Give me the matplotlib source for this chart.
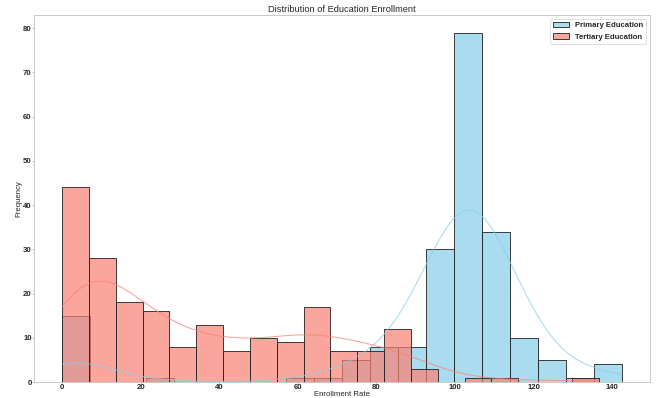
import numpy as np
import pandas as pd
import matplotlib
matplotlib.use("Agg")
import matplotlib.pyplot as plt
from matplotlib.ticker import MultipleLocator
import seaborn as sns

# bin counts (20 bins each)
primary_range = (0, 142.5)
primary_counts = [15, 0, 0, 1, 0, 0, 0, 0, 1, 1,
                  5, 8, 8, 30, 79, 34, 10, 5, 1, 4]

tertiary_range = (0, 136.6)
tertiary_counts = [44, 28, 18, 16, 8, 13, 7, 10, 9, 17,
                   7, 7, 12, 3, 0, 1, 1, 0, 0, 1]


def expand(rng, counts):
    # one observation per counted country, placed at its bin centre
    e = np.linspace(rng[0], rng[1], len(counts) + 1)
    c = (e[:-1] + e[1:]) / 2
    return pd.Series(np.repeat(c, counts), name="rate")


prim = expand(primary_range, primary_counts)
tert = expand(tertiary_range, tertiary_counts)

sns.set_style("white")
plt.rcParams["font.family"] = ["Liberation Sans", "DejaVu Sans"]

fig = plt.figure(figsize=(12, 7.15), dpi=668 / 12)
ax = fig.add_axes([0.051, 0.040, 0.922, 0.922])

bar_kw = dict(edgecolor="#222222", linewidth=1.1, alpha=0.7)
line_kw = {"alpha": 0.75, "linewidth": 1.3}
sns.histplot(prim, bins=20, binrange=primary_range, kde=True, color="skyblue",
             label="Primary Education", ax=ax, line_kws=line_kw,
             kde_kws={"cut": 1, "clip": primary_range}, **bar_kw)
sns.histplot(tert, bins=20, binrange=tertiary_range, kde=True, color="salmon",
             label="Tertiary Education", ax=ax, line_kws=line_kw,
             kde_kws={"cut": 1, "clip": tertiary_range}, **bar_kw)

ax.xaxis.set_major_locator(MultipleLocator(20))
ax.set_title("Distribution of Education Enrollment", fontsize=12, pad=4)
ax.set_xlabel("Enrollment Rate", fontsize=10, labelpad=0)
ax.set_ylabel("Frequency", fontsize=10, labelpad=1)
ax.tick_params(axis="both", bottom=True, left=True, length=2, width=0.8,
               color="#aaaaaa", labelsize=10, pad=1)
for lab in ax.get_xticklabels() + ax.get_yticklabels():
    lab.set_fontweight("bold")
for s in ax.spines.values():
    s.set_color("#aaaaaa")

leg = ax.legend(loc="upper right", prop={"weight": "bold", "size": 10})
leg.get_frame().set_edgecolor("#cccccc")

fig.savefig("out.png")
